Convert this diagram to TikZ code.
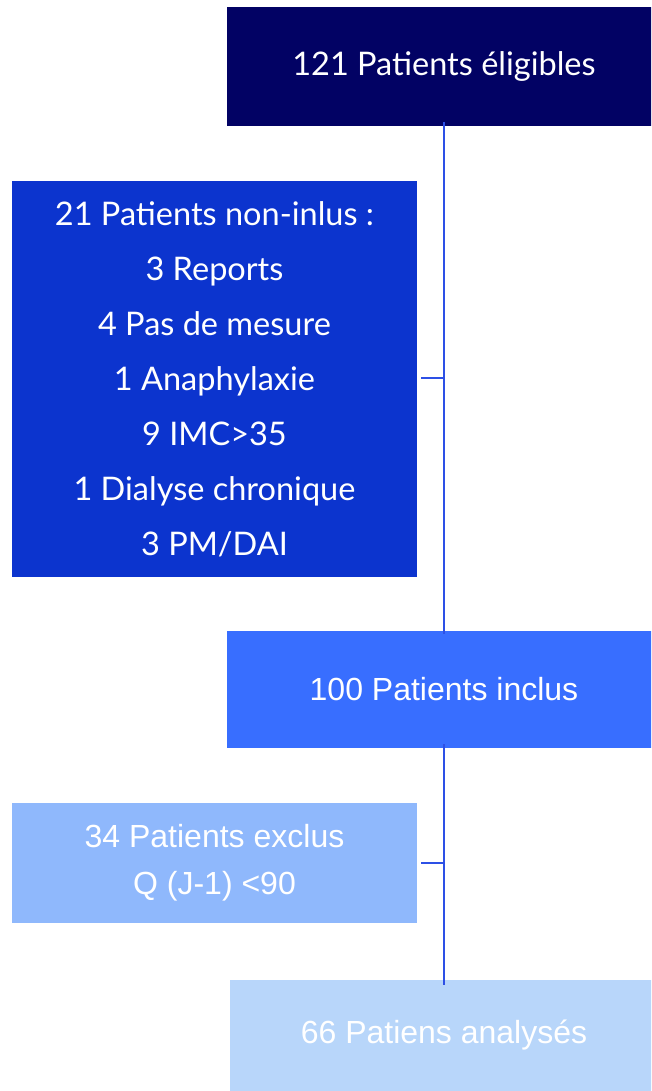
\documentclass[tikz,border=0pt]{standalone}
\usepackage{fontspec}
\setmainfont{Liberation Sans}
\newfontfamily\avenir{Lato}
\definecolor{cnavy}{RGB}{2,2,100}
\definecolor{cblue}{RGB}{12,52,206}
\definecolor{cmid}{RGB}{56,110,255}
\definecolor{clight}{RGB}{143,184,252}
\definecolor{cpale}{RGB}{184,214,250}
\definecolor{cline}{RGB}{45,80,230}
\begin{document}
\begin{tikzpicture}[x=1pt,y=-1pt,
  box/.style={rectangle,inner sep=0pt,outer sep=0pt,text=white,align=center},
  link/.style={draw=cline,line width=2pt}]
\useasboundingbox[fill=white] (0,0) rectangle (651,1091);
\clip (0,0) rectangle (651,1091);
\node[box,fill=cnavy,minimum width=434pt,minimum height=119pt,font=\avenir\fontsize{32.5}{39}\selectfont] (top) at (444,66.5) {121 Patients éligibles};
\node[box,fill=cblue,minimum width=405pt,minimum height=396pt,font=\avenir\fontsize{32.5}{55}\selectfont] (non) at (214.5,379) {21 Patients non-inlus :\\3 Reports\\4 Pas de mesure\\1 Anaphylaxie\\9 IMC>35\\1 Dialyse chronique\\3 PM/DAI};
\node[box,fill=cmid,minimum width=434pt,minimum height=117pt,font=\fontsize{32}{38}\selectfont] (inc) at (444,689.5) {100 Patients inclus};
\node[box,fill=clight,minimum width=405pt,minimum height=120pt,font=\fontsize{32}{47}\selectfont] (exc) at (214.5,863) {34 Patients exclus\\Q (J-1) <90};
\node[box,fill=cpale,minimum width=428pt,minimum height=111pt,font=\fontsize{32}{38}\selectfont] (ana) at (444,1035.5) {66 Patiens analysés};
\coordinate (sx) at (444,0);
\coordinate (t1) at (444,378);
\coordinate (t2) at (444,863);
\draw[link] ([yshift=4pt]top.south -| sx) -- ([yshift=-3pt]inc.north -| sx);
\draw[link] ([yshift=4pt]inc.south -| sx) -- ([yshift=-5pt]ana.north -| sx);
\draw[link] ([xshift=4pt]non.east |- t1) -- (t1);
\draw[link] ([xshift=4pt]exc.east |- t2) -- (t2);
\end{tikzpicture}
\end{document}
